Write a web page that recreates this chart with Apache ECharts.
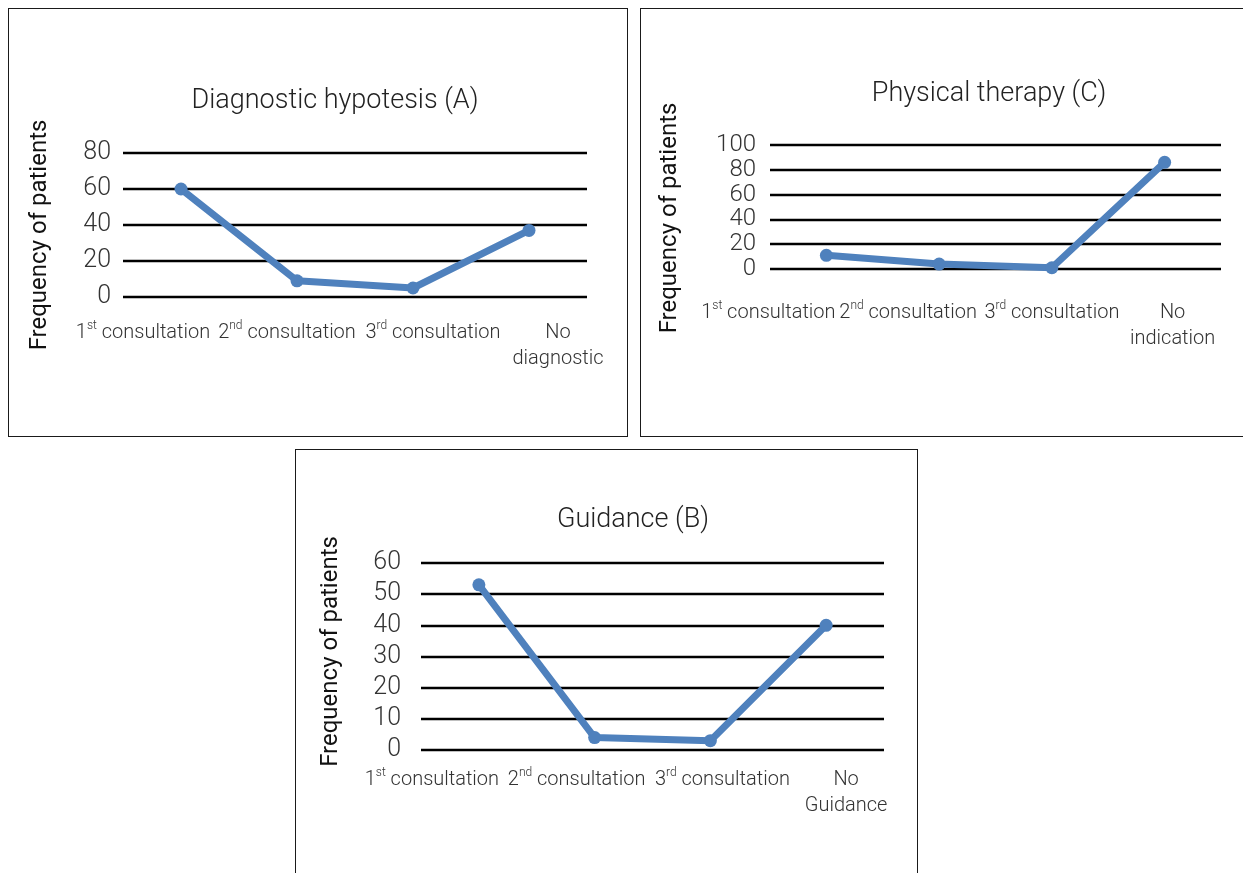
<!DOCTYPE html>
<html>
<head>
<meta charset="utf-8">
<script src="https://cdn.jsdelivr.net/npm/echarts@6/dist/echarts.min.js"></script>
<style>
html,body{margin:0;padding:0;background:#fff;width:1243px;height:873px;overflow:hidden;position:relative}
.box{position:absolute;box-sizing:border-box;border:1px solid #1a1a1a;background:#fff}
.box>div{position:absolute;left:0;top:0;right:0;bottom:0}
</style>
</head>
<body>
<div class="box" style="left:8px;top:8px;width:620px;height:429px"><div id="chartA"></div></div>
<div class="box" style="left:640px;top:8px;width:625px;height:429px"><div id="chartC"></div></div>
<div class="box" style="left:295px;top:449px;width:623px;height:432px"><div id="chartB"></div></div>
<script>
// ---- data ----
const titleA = 'Diagnostic hypotesis (A)';
const categoriesA = ['1st consultation', '2nd consultation', '3rd consultation', 'No\ndiagnostic'];
const valuesA = [60, 9, 5, 37];
const yTicksA = [0, 20, 40, 60, 80];

const titleC = 'Physical therapy (C)';
const categoriesC = ['1st consultation', '2nd consultation', '3rd consultation', 'No\nindication'];
const valuesC = [11, 4, 1, 86];
const yTicksC = [0, 20, 40, 60, 80, 100];

const titleB = 'Guidance (B)';
const categoriesB = ['1st consultation', '2nd consultation', '3rd consultation', 'No\nGuidance'];
const valuesB = [53, 4, 3, 40];
const yTicksB = [0, 10, 20, 30, 40, 50, 60];

const yName = 'Frequency of patients';

// ---- styles / layout ----
const FONT = 'Roboto, "Open Sans", "DejaVu Sans", sans-serif';
const BLUE = '#4F81BD';
const LIGHT = 300;
const LABEL_COLOR = '#333';

function shiftPad(s) {
  return s < 0 ? [0, -2 * s, 0, 0] : [0, 0, 0, 2 * s];
}
function namePad(s) {
  return s > 0 ? [0, 2 * s, 0, 0] : [0, 0, 0, -2 * s];
}
function fmt(v) {
  const m = /^(\d)(st|nd|rd)(.*)$/.exec(v);
  if (m) return '{n|' + m[1] + '}{s|' + m[2] + '}{n|' + m[3] + '}';
  return v.split('\n').map(function (t) { return '{n|' + t + '}'; }).join('\n');
}

function build(id, cfg) {
  const chart = echarts.init(document.getElementById(id), null, { renderer: 'canvas' });
  const ticks = cfg.ticks;
  chart.setOption({
    animation: false,
    textStyle: { fontFamily: FONT },
    title: {
      text: cfg.title, left: cfg.titleX, top: cfg.titleTop, textAlign: 'center',
      textStyle: { fontSize: 27, fontWeight: LIGHT, color: '#222', fontFamily: FONT }
    },
    grid: Object.assign({ outerBoundsMode: 'none', containLabel: false }, cfg.grid),
    xAxis: {
      type: 'category', boundaryGap: true,
      data: cfg.categories.map(function (c, i) { return { value: c, textStyle: { padding: shiftPad(cfg.shift[i]) } }; }),
      axisLine: { show: false }, axisTick: { show: false }, splitLine: { show: false },
      axisLabel: {
        interval: 0, margin: cfg.xMargin, color: LABEL_COLOR, fontSize: 20, lineHeight: 26, fontFamily: FONT, fontWeight: LIGHT,
        formatter: fmt,
        rich: {
          n: { fontSize: 20, lineHeight: 26, color: LABEL_COLOR, fontFamily: FONT, fontWeight: LIGHT },
          s: { fontSize: 12, lineHeight: 14, verticalAlign: 'top', color: LABEL_COLOR, fontFamily: FONT, fontWeight: LIGHT }
        }
      }
    },
    yAxis: {
      type: 'value', min: ticks[0], max: ticks[ticks.length - 1], interval: ticks[1] - ticks[0],
      name: yName, nameLocation: 'middle', nameRotate: 90, nameGap: cfg.nameGap,
      nameTextStyle: { fontSize: 24, color: '#111', fontFamily: FONT, padding: namePad(cfg.nameShift) },
      axisLine: { show: false }, axisTick: { show: false },
      axisLabel: {
        fontSize: cfg.yFont, lineHeight: 16, color: LABEL_COLOR, margin: cfg.yMargin, fontFamily: FONT, fontWeight: LIGHT,
        showMinLabel: true, showMaxLabel: true, hideOverlap: false,
        formatter: function (v) { return '{v|' + v + '}'; },
        rich: { v: { fontSize: cfg.yFont, lineHeight: 16, color: LABEL_COLOR, fontFamily: FONT, fontWeight: LIGHT } }
      },
      splitLine: { show: true, lineStyle: { color: '#000', width: 2.4 } }
    },
    series: [{
      type: 'line', data: cfg.values, symbol: 'circle', symbolSize: 13,
      lineStyle: { color: BLUE, width: 7 }, itemStyle: { color: BLUE }, z: 3
    }]
  });
}

build('chartA', {
  title: titleA, categories: categoriesA, values: valuesA, ticks: yTicksA,
  titleX: 321, titleTop: 74,
  grid: { left: 114, top: 144, width: 464, height: 144 },
  xMargin: 23, yMargin: 12, yFont: 25, nameGap: 71, nameShift: 10,
  shift: [-38, -10, 20, 29]
});
build('chartC', {
  title: titleC, categories: categoriesC, values: valuesC, ticks: yTicksC,
  titleX: 343, titleTop: 67,
  grid: { left: 129, top: 136, width: 451, height: 124 },
  xMargin: 31, yMargin: 14, yFont: 24, nameGap: 88, nameShift: 11,
  shift: [-58, -31, 0, 8]
});
build('chartB', {
  title: titleB, categories: categoriesB, values: valuesB, ticks: yTicksB,
  titleX: 332, titleTop: 52,
  grid: { left: 125, top: 113, width: 463, height: 187 },
  xMargin: 17, yMargin: 20, yFont: 25, nameGap: 78, nameShift: -5,
  shift: [-47, -18, 12, 20]
});
</script>
</body>
</html>
